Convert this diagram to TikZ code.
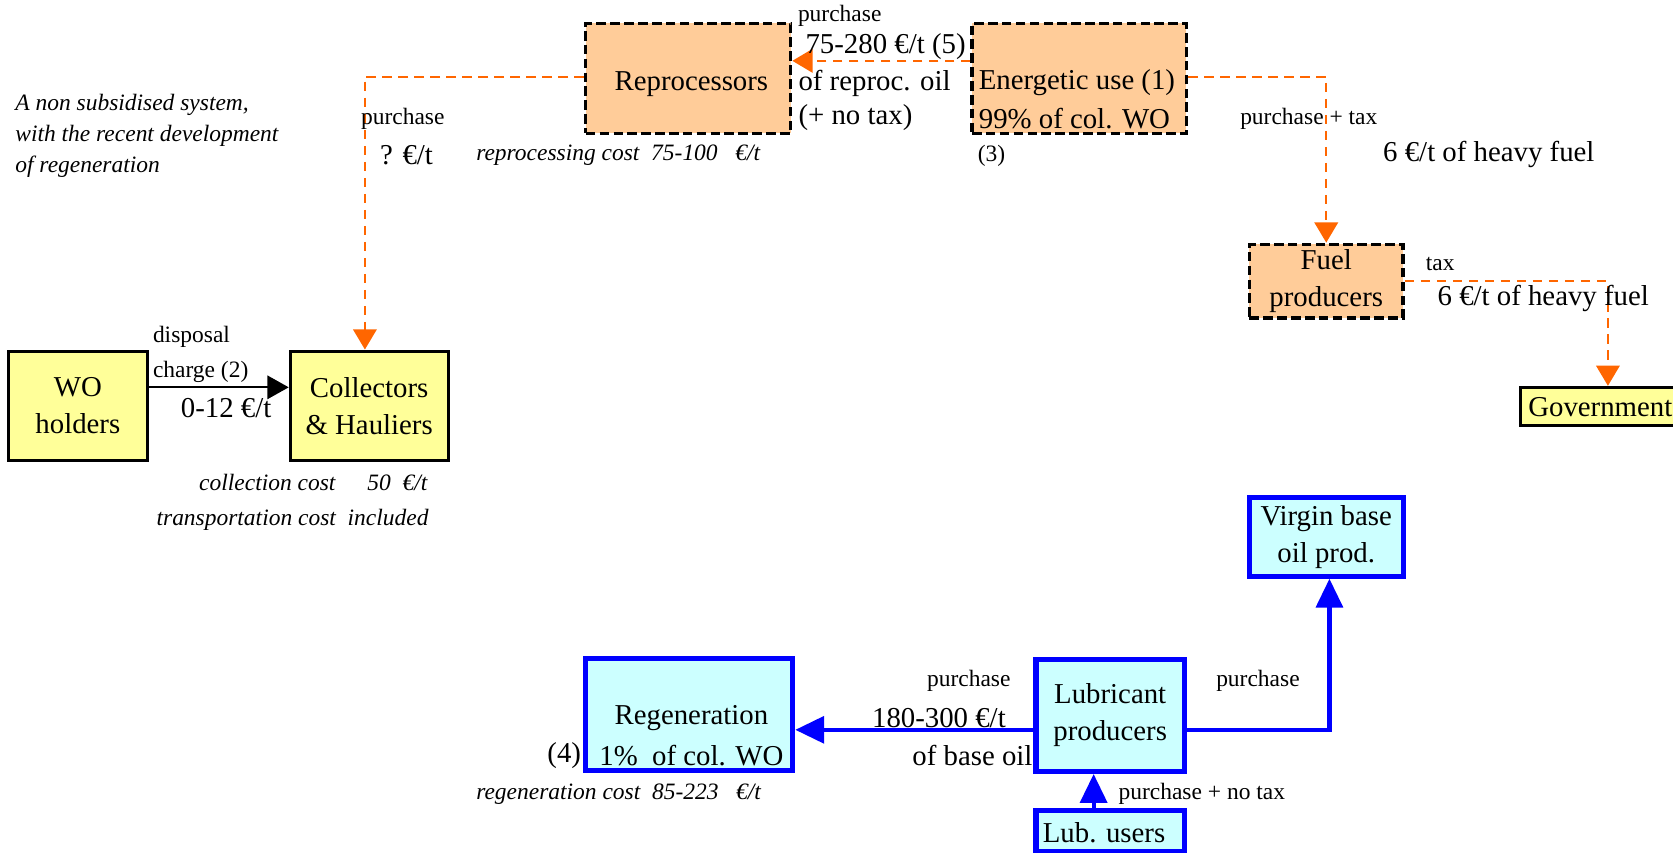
\documentclass[tikz,border=0pt]{standalone}
\usepackage{fontspec}
\setmainfont{Liberation Serif}
\usetikzlibrary{arrows.meta}

\definecolor{peach}{HTML}{FFCC99}
\definecolor{paleyellow}{HTML}{FFFF99}
\definecolor{palecyan}{HTML}{CCFFFF}
\definecolor{flow}{HTML}{FF6600}
\definecolor{lineblue}{HTML}{0000FF}

\newcommand\lgfont{\fontsize{13.5}{17.3}\selectfont}
\newcommand\smfont{\fontsize{11}{14}\selectfont}

\begin{document}
\begin{tikzpicture}[x=0.5pt,y=-0.5pt,
  small/.style={inner sep=0pt, font=\smfont, yshift=-1pt},
  big/.style={inner sep=0pt, font=\lgfont, yshift=-1pt},
  costnote/.style={inner sep=0pt, font=\smfont\itshape, yshift=-1pt},
  peachbox/.style={draw=black, fill=peach, line width=1.6pt,
    dash pattern=on 4.5pt off 2pt, inner sep=0pt, font=\lgfont, align=center},
  yelbox/.style={draw=black, fill=paleyellow, line width=1.4pt,
    inner sep=0pt, font=\lgfont, align=center},
  cyanbox/.style={draw=lineblue, fill=palecyan, line width=2.4pt,
    inner sep=0pt, font=\lgfont, align=center},
  oarr/.style={draw=flow, line width=1.1pt, dash pattern=on 4.5pt off 3pt,
    -{Triangle[width=11pt,length=9.5pt]}},
  karr/.style={draw=black, line width=0.8pt, -{Triangle[width=11pt,length=10pt]}},
  barr/.style={draw=lineblue, line width=2pt, -{Triangle[width=12.5pt,length=13.5pt]}},
]
\useasboundingbox (0,0) rectangle (1568,799);

% ---- waste-oil market actors ----
\node[peachbox, minimum width=96pt, minimum height=51.5pt] (repro) at (645,73.5) {};
\node[big] (reprot) at (648,77) {Reprocessors};
\node[peachbox, minimum width=100.5pt, minimum height=51.5pt] (energ) at (1011.5,73.5) {};
\node[big, anchor=west] (energt1) at (917,75) {Energetic use (1)};
\node[big, anchor=west] (energt2) at (917,109) {99\% of col. WO};
\node[peachbox, minimum width=72pt, minimum height=34.5pt] (fuel) at (1243,263.5) {Fuel\\producers};
\node[yelbox, minimum width=75pt, minimum height=18pt] (govt) at (1500,381) {};
\node[big, anchor=west] (govtt) at (1432,380) {Government};
\node[yelbox, minimum width=65pt, minimum height=51.5pt] (wo) at (73,380.5) {WO\\holders};
\node[yelbox, minimum width=74pt, minimum height=51.5pt] (coll) at (346,380.5) {Collectors\\\& Hauliers};

\node[cyanbox, minimum width=72pt, minimum height=37pt] (virgin) at (1243,503) {Virgin base\\oil prod.};
\node[cyanbox, minimum width=97pt, minimum height=52.5pt] (regen) at (646,669.5) {};
\node[big] (regent1) at (648,671) {Regeneration};
\node[big] (regent2) at (648,706) {1\%\ \ of col. WO};
\node[cyanbox, minimum width=69.5pt, minimum height=52.5pt] (lub) at (1040.5,670.5) {Lubricant\\producers};
\node[cyanbox, minimum width=69.5pt, minimum height=19pt] (users) at (1040.5,779) {};
\node[big, anchor=west] (userst) at (977,778) {Lub. users};

% ---- flows ----
\draw[oarr] (energ.west |- 0,57) -- (repro.east |- 0,57);
\draw[oarr] (repro.west |- 0,72) -| ([xshift=-2pt]coll.north);
\draw[oarr] (energ.east |- 0,72) -| (fuel.north);
\draw[oarr] (fuel.east) -| (govt.north -| 1507,0);
\draw[karr] (wo.east |- 0,363) -- (coll.west |- 0,363);
\draw[barr] (lub.west |- 0,684) -- (regen.east |- 0,684);
\draw[barr] (lub.east |- 0,684) -| ([xshift=1.5pt]virgin.south);
\draw[barr] (users.north -| 1025,0) -- (lub.south -| 1025,0);

% ---- labels ----
\node[inner sep=0pt, font=\fontsize{11}{14.6}\selectfont\itshape, anchor=west, align=left] (intro) at (14,127)
  {A non subsidised system,\\with the recent development\\of regeneration};

\node[small] (l1) at (787,13) {purchase};
\node[big] (l2) at (830,42) {75-280 €/t (5)};
\node[big, anchor=west] (l3) at (748,76) {of reproc. oil};
\node[big, anchor=west] (l4) at (748,108) {(+ no tax)};
\node[small, anchor=west] (l5) at (916,144) {(3)};
\node[costnote, anchor=west] (l6) at (446,143) {reprocessing cost\ \ 75-100\ \ \ €/t};

\node[small, anchor=west] (l7) at (338,109) {purchase};
\node[big] (l8) at (381,143) {? €/t};

\node[small, anchor=west] (l9) at (1162,109) {purchase + tax};
\node[big, anchor=west] (l10) at (1296,143) {6 €/t of heavy fuel};
\node[small, anchor=west] (l11) at (1336,245) {tax};
\node[big, anchor=west] (l12) at (1347,278) {6 €/t of heavy fuel};

\node[small, anchor=west] (l13) at (143,314) {disposal};
\node[small, anchor=west] (l14) at (143,347) {charge (2)};
\node[big] (l15) at (212,380) {0-12 €/t};
\node[costnote, anchor=east] (l16) at (401,450) {collection cost\hspace{15pt}50\ \ €/t};
\node[costnote, anchor=east] (l17) at (402,485) {transportation cost\ \ included};

\node[big, anchor=east] (l18) at (545,706) {(4)};
\node[costnote, anchor=west] (l19) at (446,742) {regeneration cost\ \ 85-223\ \ \ €/t};
\node[small] (l20) at (908,636) {purchase};
\node[big] (l21) at (880,671) {180-300 €/t};
\node[big, anchor=east] (l22) at (968,706) {of base oil};
\node[small] (l23) at (1179,636) {purchase};
\node[small, anchor=west] (l24) at (1048,742) {purchase + no tax};
\end{tikzpicture}
\end{document}
